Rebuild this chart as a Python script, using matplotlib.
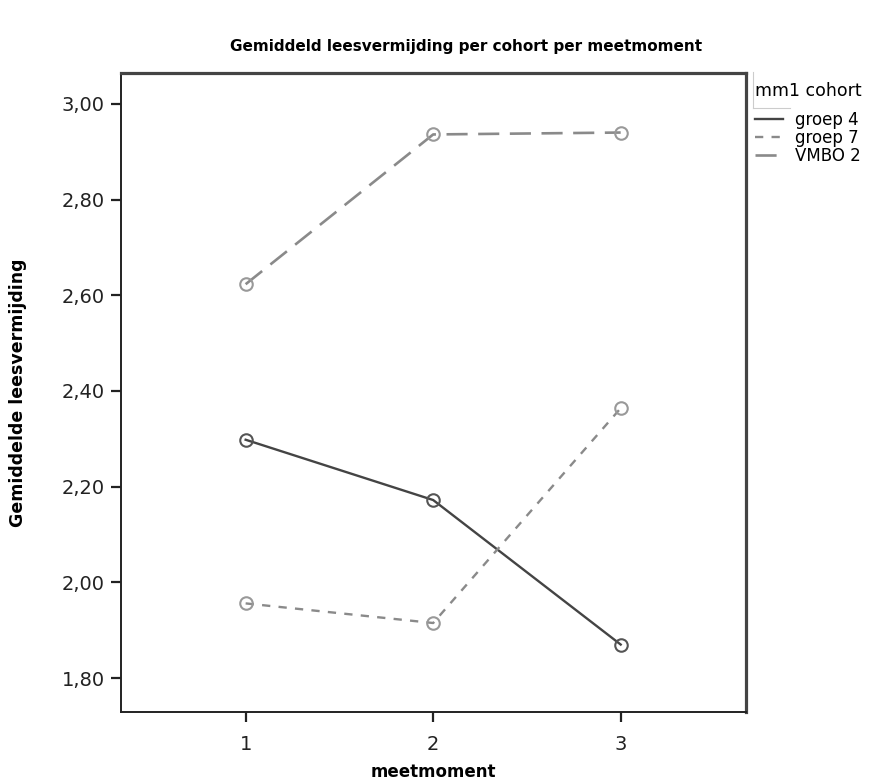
# Line chart: mean reading avoidance per cohort per measurement moment

import matplotlib
matplotlib.use("Agg")
import matplotlib.pyplot as plt
from matplotlib.ticker import FuncFormatter
from matplotlib.lines import Line2D

# Data
meetmoment = [1, 2, 3]
groep_4 = [2.298, 2.172, 1.870]
groep_7 = [1.956, 1.915, 2.364]
vmbo_2 = [2.623, 2.936, 2.940]
y_ticks = [1.80, 2.00, 2.20, 2.40, 2.60, 2.80, 3.00]

plt.rcParams["font.family"] = ["DejaVu Sans"]

fig = plt.figure(figsize=(8.87, 7.82), dpi=100)
ax = fig.add_axes([0.136, 0.0895, 0.7047, 0.8175])

ax.plot(meetmoment, groep_4, color="#444444", lw=1.7, ls="-",
        marker="o", ms=9, mfc="none", mec="#555555", mew=1.5, label="groep 4")
ax.plot(meetmoment, groep_7, color="#8a8a8a", lw=1.7, ls=(0, (3.5, 3.5)),
        marker="o", ms=9, mfc="none", mec="#999999", mew=1.5, label="groep 7")
ax.plot(meetmoment, vmbo_2, color="#8a8a8a", lw=1.9, ls=(0, (8, 4)),
        marker="o", ms=9, mfc="none", mec="#999999", mew=1.5, label="VMBO 2")

ax.set_xlim(1 / 3, 11 / 3)
ax.set_ylim(1.729, 3.065)
ax.set_xticks(meetmoment)
ax.set_yticks(y_ticks)
ax.yaxis.set_major_formatter(FuncFormatter(lambda v, p: f"{v:.2f}".replace(".", ",")))
ax.tick_params(direction="out", length=7.5, width=1.6, labelsize=14, colors="#222222")
ax.tick_params(axis="y", pad=4)
ax.tick_params(axis="x", pad=9)

for side in ["left", "bottom"]:
    ax.spines[side].set_linewidth(1.4)
    ax.spines[side].set_color("#222222")
for side in ["top", "right"]:
    ax.spines[side].set_linewidth(2.3)
    ax.spines[side].set_color("#444444")

ax.set_xlabel("meetmoment", fontsize=12, fontweight="bold")
ax.xaxis.set_label_coords(0.5, (712 - 772) / 639.3)
ax.xaxis.label.set_va("center")
ax.set_ylabel("Gemiddelde leesvermijding", fontsize=12.5, fontweight="bold")
ax.yaxis.set_label_coords((18 - 120.7) / 625, 0.5)
ax.yaxis.label.set_va("center")

fig.text(466 / 887, 1 - 47 / 782, "Gemiddeld leesvermijding per cohort per meetmoment",
         ha="center", va="center", fontsize=11, fontweight="bold")

# legend with title on the right side
leg = ax.legend(loc="upper left", bbox_to_anchor=(755 / 887, 1 - 82 / 782),
                bbox_transform=fig.transFigure, title="mm1 cohort", frameon=False,
                fontsize=12, title_fontsize=12.5, handlelength=1.7, handletextpad=0.7,
                labelspacing=0.0, borderaxespad=0, borderpad=0, alignment="left")
leg._legend_box.sep = 8
for h in leg.get_lines():
    h.set_marker("")

# light frame around the legend title
fig.add_artist(Line2D([753 / 887, 753 / 887], [1 - 72 / 782, 1 - 108 / 782],
                      color="#cccccc", lw=0.8, transform=fig.transFigure))
fig.add_artist(Line2D([753 / 887, 790 / 887], [1 - 108 / 782, 1 - 108 / 782],
                      color="#cccccc", lw=0.8, transform=fig.transFigure))

fig.savefig("out.png", dpi=100)
